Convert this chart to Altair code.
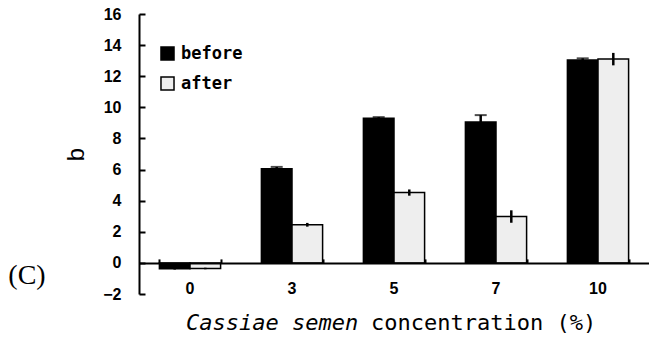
import altair as alt
import pandas as pd

# b value of samples by Cassiae semen concentration, before and after storage
concentration = ["0", "3", "5", "7", "10"]
before_vals = [-0.38, 6.05, 9.3, 9.05, 13.05]
before_err = [0.05, 0.12, 0.07, 0.45, 0.1]
after_vals = [-0.36, 2.45, 4.52, 2.98, 13.1]
after_err = [0.05, 0.12, 0.2, 0.4, 0.4]
series_names = ["before", "after"]
y_ticks = [-2, 0, 2, 4, 6, 8, 10, 12, 14, 16]

rows = []
for i, c in enumerate(concentration):
    rows.append({"conc": c, "series": "before", "b": before_vals[i], "err": before_err[i]})
    rows.append({"conc": c, "series": "after", "b": after_vals[i], "err": after_err[i]})
df = pd.DataFrame(rows)
df["lo"] = df["b"] - df["err"]
df["hi"] = df["b"] + df["err"]

W, H = 510, 280
Y_DOMAIN = [-2, 16]
zero_from_top = H * (Y_DOMAIN[1] - 0) / (Y_DOMAIN[1] - Y_DOMAIN[0])

x_scale = alt.Scale(domain=concentration, paddingInner=0.4, paddingOuter=0.2)
y_scale = alt.Scale(domain=Y_DOMAIN, nice=False, zero=False)
off_scale = alt.Scale(domain=series_names, paddingInner=0, paddingOuter=0)

tick_font = "Liberation Sans"

base = alt.Chart(df)

bars = base.mark_bar(stroke="black", strokeWidth=1.5).encode(
    x=alt.X("conc:N", scale=x_scale, sort=concentration,
            axis=alt.Axis(orient="bottom", offset=-(H - zero_from_top), domain=True,
                          domainColor="black", domainWidth=2, ticks=False,
                          labelAngle=0, labelFont=tick_font, labelFontWeight="bold",
                          labelFontSize=16, labelColor="black", labelPadding=18,
                          title=None, zindex=1)),
    xOffset=alt.XOffset("series:N", scale=off_scale, sort=series_names),
    y=alt.Y("b:Q", scale=y_scale,
            axis=alt.Axis(orient="left", values=y_ticks, domain=True, domainColor="black",
                          domainWidth=2, ticks=False, tickSize=0, labelFont=tick_font,
                          labelFontWeight="bold", labelFontSize=16, labelColor="black",
                          labelPadding=18, title="b", titleFont=tick_font,
                          titleFontSize=24, titleFontWeight="normal", titleColor="black",
                          titlePadding=14, grid=False)),
    color=alt.Color("series:N", sort=series_names,
                    scale=alt.Scale(domain=series_names, range=["black", "#eeeeee"]),
                    legend=alt.Legend(orient="none", legendX=20, legendY=31, title=None,
                                      symbolType="square", symbolSize=170,
                                      symbolStrokeColor="black", symbolStrokeWidth=1.5,
                                      labelFont="DejaVu Sans Mono", labelFontWeight="bold",
                                      labelFontSize=17, labelColor="black",
                                      rowPadding=9, labelOffset=5)),
)

errors = base.mark_rule(color="black", strokeWidth=2.5).encode(
    x=alt.X("conc:N", scale=x_scale, sort=concentration,
            axis=alt.Axis(orient="top", offset=-zero_from_top, domain=False, labels=False,
                          ticks=True, tickBand="extent", tickSize=4, tickWidth=2,
                          tickColor="black", title=None)),
    xOffset=alt.XOffset("series:N", scale=off_scale, sort=series_names),
    y=alt.Y("lo:Q", scale=y_scale,
            axis=alt.Axis(orient="right", offset=-W, values=y_ticks, domain=False,
                          labels=False, ticks=True, tickSize=6, tickWidth=2,
                          tickColor="black", title=None, grid=False)),
    y2="hi:Q",
)

caps = base.transform_filter(alt.datum.series == "before").mark_tick(
    color="black", thickness=2, size=12
).encode(
    x=alt.X("conc:N", scale=x_scale, sort=concentration, axis=None),
    xOffset=alt.XOffset("series:N", scale=off_scale, sort=series_names),
    y=alt.Y("hi:Q", scale=y_scale, axis=None),
)

# x-axis title: italic species name followed by upright text, monospace font
mono = "DejaVu Sans Mono"
title_y = 309
title_a = alt.Chart(pd.DataFrame({"t": ["Cassiae semen"]})).mark_text(
    font=mono, fontSize=22, fontStyle="italic", align="left", baseline="middle",
    color="black"
).encode(text="t:N", x=alt.value(47), y=alt.value(title_y))
title_b = alt.Chart(pd.DataFrame({"t": ["concentration (%)"]})).mark_text(
    font=mono, fontSize=22, align="left", baseline="middle", color="black"
).encode(text="t:N", x=alt.value(232), y=alt.value(title_y))

panel = alt.Chart(pd.DataFrame({"t": ["(C)"]})).mark_text(
    font="Liberation Serif", fontSize=28, align="center", baseline="middle", color="black"
).encode(text="t:N", x=alt.value(-112), y=alt.value(262))

chart = alt.layer(bars, errors, caps, title_a, title_b, panel).resolve_axis(
    x="independent", y="independent"
).properties(
    width=W, height=H,
    autosize=alt.AutoSizeParams(type="none"),
    padding={"left": 139, "top": 14, "right": 0, "bottom": 44},
    background="white",
).configure_view(stroke=None)

chart.save("out.html", embed_options={"renderer": "svg", "actions": False})
